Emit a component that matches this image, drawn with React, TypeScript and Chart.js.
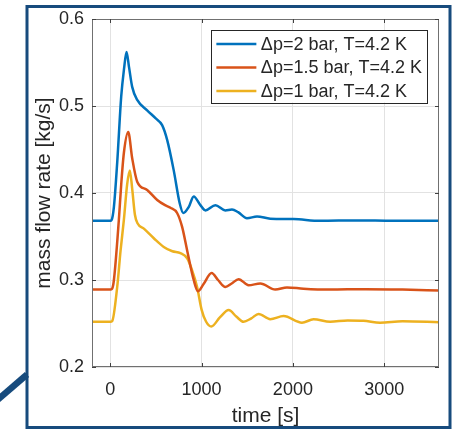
import React, { useEffect, useRef } from "react";
import { Chart, registerables } from "chart.js";

Chart.register(...registerables);

// ---- data ----
const xTicks = [0, 1000, 2000, 3000];
const yTicks = [0.2, 0.3, 0.4, 0.5, 0.6];
const seriesLabels = ["Δp=2 bar, T=4.2 K", "Δp=1.5 bar, T=4.2 K", "Δp=1 bar, T=4.2 K"];

const blueTime = [-200, 0, 15, 40, 76, 120, 150, 178, 205, 240, 295, 404, 495, 568, 623, 695, 761, 800, 860, 914, 987, 1042, 1151, 1260, 1333, 1400, 1497, 1607, 1752, 2007, 2300, 2700, 3100, 3600];
const blueFlow = [0.368, 0.368, 0.369, 0.384, 0.435, 0.511, 0.542, 0.562, 0.545, 0.522, 0.507, 0.495, 0.486, 0.478, 0.461, 0.426, 0.388, 0.377, 0.384, 0.396, 0.386, 0.38, 0.386, 0.38, 0.381, 0.378, 0.371, 0.373, 0.3705, 0.37, 0.368, 0.3685, 0.368, 0.368];

const redTime = [-200, 0, 20, 40, 94, 120, 149, 197, 240, 295, 404, 514, 600, 659, 732, 787, 842, 914, 960, 1020, 1110, 1180, 1260, 1330, 1406, 1515, 1643, 1807, 1935, 2116, 2400, 2800, 3200, 3600];
const redFlow = [0.289, 0.289, 0.29, 0.3, 0.369, 0.41, 0.446, 0.47, 0.44, 0.413, 0.4035, 0.392, 0.386, 0.383, 0.377, 0.361, 0.334, 0.3, 0.287, 0.295, 0.308, 0.3, 0.292, 0.296, 0.301, 0.294, 0.296, 0.289, 0.2915, 0.29, 0.289, 0.2895, 0.289, 0.288];

const yellowTime = [-200, 0, 22, 76, 113, 149, 185, 214, 240, 270, 300, 368, 477, 586, 680, 768, 842, 900, 951, 1000, 1050, 1107, 1200, 1297, 1380, 1460, 1545, 1624, 1752, 1898, 2099, 2226, 2408, 2600, 2772, 2954, 3200, 3600];
const yellowFlow = [0.252, 0.252, 0.253, 0.292, 0.334, 0.369, 0.41, 0.426, 0.405, 0.375, 0.365, 0.359, 0.348, 0.338, 0.333, 0.331, 0.325, 0.31, 0.292, 0.266, 0.252, 0.2465, 0.257, 0.2655, 0.258, 0.252, 0.256, 0.261, 0.255, 0.2586, 0.251, 0.2548, 0.252, 0.2535, 0.2532, 0.251, 0.2525, 0.2515];

const seriesTimes = [blueTime, redTime, yellowTime];
const seriesFlows = [blueFlow, redFlow, yellowFlow];
const seriesColors = ["#0072BD", "#D95319", "#EDB120"];

const FONT = "'Liberation Sans', Arial, Helvetica, sans-serif";
const TEXT = "#262626";

const decorPlugin = {
  id: "decor",
  afterDatasetsDraw(chart: any) {
    const { ctx, chartArea: a, scales } = chart;
    ctx.save();
    // axes box
    ctx.strokeStyle = "#707070";
    ctx.lineWidth = 1;
    ctx.strokeRect(Math.round(a.left) + 0.5, Math.round(a.top) + 0.5, Math.round(a.right - a.left) - 1, Math.round(a.bottom - a.top) - 1);
    // inward ticks
    ctx.strokeStyle = "#404040";
    ctx.beginPath();
    xTicks.forEach((v) => {
      const x = Math.round(scales.x.getPixelForValue(v)) + 0.5;
      ctx.moveTo(x, a.bottom); ctx.lineTo(x, a.bottom - 4);
      ctx.moveTo(x, a.top); ctx.lineTo(x, a.top + 4);
    });
    yTicks.forEach((v) => {
      const y = Math.round(scales.y.getPixelForValue(v)) + 0.5;
      ctx.moveTo(a.left, y); ctx.lineTo(a.left + 4, y);
      ctx.moveTo(a.right, y); ctx.lineTo(a.right - 4, y);
    });
    ctx.stroke();

    // legend box inside the axes (top-right)
    ctx.font = `18px ${FONT}`;
    const textW = Math.max(...seriesLabels.map((s) => ctx.measureText(s).width));
    const lineLen = 40;
    const boxW = 5 + lineLen + 4.5 + textW + 5;
    const rowH = 23.5;
    const boxH = rowH * seriesLabels.length + 2;
    const bx = a.right - 12 - boxW;
    const by = a.top + 11;
    ctx.fillStyle = "#ffffff";
    ctx.fillRect(bx, by, boxW, boxH);
    ctx.strokeStyle = "#262626";
    ctx.lineWidth = 1;
    ctx.strokeRect(Math.round(bx) + 0.5, Math.round(by) + 0.5, Math.round(boxW), Math.round(boxH));
    seriesLabels.forEach((label, i) => {
      const cy = by + 14 + i * rowH;
      ctx.strokeStyle = seriesColors[i];
      ctx.lineWidth = 2.5;
      ctx.beginPath();
      ctx.moveTo(bx + 5, cy);
      ctx.lineTo(bx + 5 + lineLen, cy);
      ctx.stroke();
      ctx.fillStyle = TEXT;
      ctx.textBaseline = "middle";
      ctx.textAlign = "left";
      ctx.fillText(label, bx + 5 + lineLen + 4.5, cy + 1);
    });

    // outer frame and pointer line
    ctx.strokeStyle = "#174b7d";
    ctx.lineWidth = 3;
    ctx.strokeRect(27, 6.5, 423, 421);
    ctx.lineWidth = 6.5;
    ctx.beginPath();
    ctx.moveTo(-5, 402);
    ctx.lineTo(27, 374.5);
    ctx.stroke();
    ctx.restore();
  },
};

export default function App() {
  const ref = useRef<HTMLCanvasElement>(null);
  useEffect(() => {
    if (!ref.current) return;
    Chart.defaults.font.family = FONT;
    const chart = new Chart(ref.current, {
      type: "line",
      data: {
        datasets: seriesLabels.map((label, i) => ({
          label,
          data: seriesTimes[i].map((t, j) => ({ x: t, y: seriesFlows[i][j] })),
          borderColor: seriesColors[i],
          backgroundColor: seriesColors[i],
          borderWidth: 2.5,
          pointRadius: 0,
          cubicInterpolationMode: "monotone" as const,
          fill: false,
        })),
      },
      options: {
        responsive: false,
        animation: false,
        events: [],
        layout: { padding: { left: 0, top: 19, right: 22, bottom: 0 } },
        plugins: { legend: { display: false }, tooltip: { enabled: false } },
        scales: {
          x: {
            type: "linear",
            min: -200,
            max: 3600,
            afterBuildTicks: (s: any) => { s.ticks = xTicks.map((v) => ({ value: v })); },
            afterFit: (s: any) => { s.height = 63; },
            grid: { color: "#e2e2e2", drawTicks: false, lineWidth: 1 },
            border: { display: false },
            ticks: { font: { size: 18 }, color: TEXT, padding: 12, maxRotation: 0, callback: (v: any) => String(v) },
            title: { display: true, text: "time [s]", font: { size: 21 }, color: TEXT, padding: { top: 0, bottom: 1 } },
          },
          y: {
            type: "linear",
            min: 0.2,
            max: 0.6,
            afterBuildTicks: (s: any) => { s.ticks = yTicks.map((v) => ({ value: v })); },
            afterFit: (s: any) => { s.width = 92; },
            grid: { color: "#e2e2e2", drawTicks: false, lineWidth: 1 },
            border: { display: false },
            ticks: { font: { size: 18 }, color: TEXT, padding: 8, callback: (v: any) => Number(v).toFixed(1) },
            title: { display: true, text: "mass flow rate [kg/s]", font: { size: 21 }, color: TEXT, padding: { top: 32, bottom: 0 } },
          },
        },
      },
      plugins: [decorPlugin],
    });
    return () => chart.destroy();
  }, []);
  return (
    <div style={{ position: "fixed", left: 0, top: 0, width: 461, height: 430, background: "#ffffff" }}>
      <canvas ref={ref} width={461} height={430} style={{ width: 461, height: 430, display: "block" }} />
    </div>
  );
}
